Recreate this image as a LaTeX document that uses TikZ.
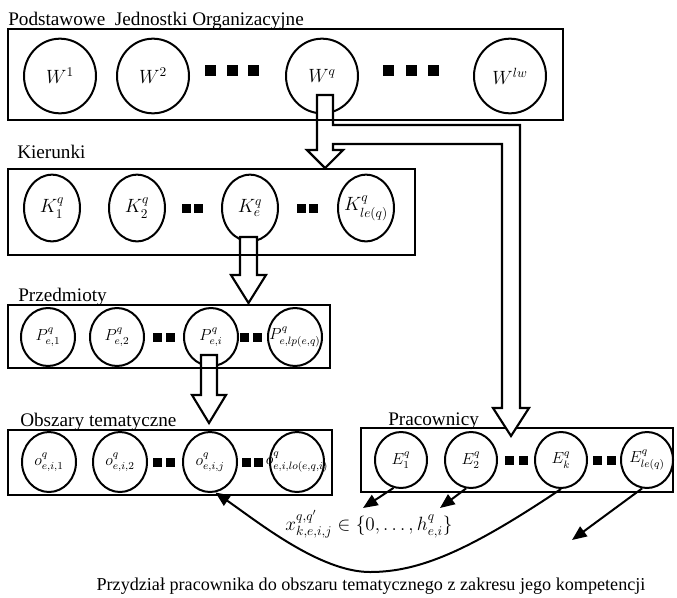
\documentclass[tikz,border=0pt]{standalone}
\usepackage{fontspec}
\setmainfont{Liberation Serif}
\usepackage{amsmath}
\usetikzlibrary{shapes,arrows.meta,positioning,calc}
\newcommand{\etyk}[1]{\makebox[0pt]{$#1$}}

\begin{document}
\begin{tikzpicture}[x=0.75pt,y=-0.75pt,
  lbl/.style={inner sep=0pt, anchor=base west, font=\fontsize{14.4}{16}\selectfont},
  wz/.style={ellipse, draw, fill=white, line width=1.5pt, inner sep=0pt, font=\fontsize{14.4}{16}\selectfont},
  wW/.style={wz, minimum width=54pt, minimum height=56pt},
  wK/.style={wz, minimum width=42pt, minimum height=50pt},
  wP/.style={wz, minimum width=40.5pt, minimum height=43.5pt, font=\fontsize{12}{14}\selectfont},
  wO/.style={wz, minimum width=40.5pt, minimum height=45pt, font=\fontsize{12}{14}\selectfont},
  wE/.style={wz, minimum width=39pt, minimum height=42pt, font=\fontsize{12}{14}\selectfont},
  ramka/.style={draw, line width=1.6pt},
  blok/.style={draw, fill=white, line width=1.6pt},
  strz/.style={-{Triangle[length=11pt,width=9pt]}, line width=1.5pt}]
\useasboundingbox (0,0) rectangle (677,597);

% jednostki
\node[wW] (W1) at (60,76) {\etyk{W^1}};
\node[wW] (W2) at (153,76) {\etyk{W^2}};
\node[wW] (Wq) at (322,76) {\etyk{W^q}};
\node[wW] (Wlw) at (510,76) {\etyk{W^{lw}}};
% kierunki
\node[wK] (K1) at (52,208) {\etyk{K^q_1}};
\node[wK] (K2) at (137,208) {\etyk{K^q_2}};
\node[wK] (Ke) at (250,208) {\etyk{K^q_e}};
\node[wK] (Kle) at (366,208) {\etyk{K^q_{le(q)}}};
% przedmioty
\node[wP] (P1) at (48,337) {\etyk{P^q_{e,1}}};
\node[wP] (P2) at (117,337) {\etyk{P^q_{e,2}}};
\node[wP] (Pei) at (211,337) {\etyk{P^q_{e,i}}};
\node[wP] (Plp) at (295,337) {\etyk{P^q_{e,lp(e,q)}}};
% obszary
\node[wO] (O1) at (49,462) {\etyk{o^q_{e,i,1}}};
\node[wO] (O2) at (120,462) {\etyk{o^q_{e,i,2}}};
\node[wO] (Oej) at (210,462) {\etyk{o^q_{e,i,j}}};
\node[wO] (Olo) at (297,462) {\etyk{o^q_{e,i,lo(e,q,i)}}};
% pracownicy
\node[wE] (E1) at (401,460) {\etyk{E^q_1}};
\node[wE] (E2) at (471,460) {\etyk{E^q_2}};
\node[wE] (Ek) at (561,460) {\etyk{E^q_k}};
\node[wE] (Ele) at (647,460) {\etyk{E^q_{le(q)}}};

% kwadraty
\foreach \x in {205,227,248,383,406,428}
  \fill (\x,65) rectangle +(11,11);
\foreach \x/\y in {182/204,194/204,297/204,309/204,153/333,166/333,240/333,253/333,
  153/458,166/458,242/458,254/458,505/456,519/456,593/456,607/456}
  \fill (\x,\y) rectangle +(9,9);

\draw[ramka] (361,428) rectangle (673,492);

% strzalki blokowe
\draw[blok] (317,95) -- (333,95) -- (333,125) -- (520,125) -- (520,408) -- (529,408)
  -- (511,436) -- (493,408) -- (502,408) -- (502,144) -- (333,144) -- (333,150)
  -- (343,150) -- (325,168) -- (307,150) -- (317,150) -- cycle;
\draw[blok] (240,237) -- (257,237) -- (257,275) -- (266,275) -- (248.5,303)
  -- (231,275) -- (240,275) -- cycle;
\draw[blok] (201,355) -- (217,355) -- (217,395) -- (226,395) -- (209,423)
  -- (192,395) -- (201,395) -- cycle;

% ramki
\draw[ramka] (8,29) rectangle (563,120);
\draw[ramka] (8,169) rectangle (415,255);
\draw[ramka] (8,305) rectangle (330,368);
\draw[ramka] (8,430) rectangle (332,495);

\node[lbl] (tW) at (8,25) {Podstawowe\ \ Jednostki Organizacyjne};
\node[lbl] (tK) at (17,158) {Kierunki};
\node[lbl] (tP) at (18,301) {Przedmioty};
\node[lbl] (tO) at (20,426) {Obszary tematyczne};
\node[lbl] (tE) at (388,425) {Pracownicy};

% przydzial
\coordinate (e1k) at (363,508);
\coordinate (e2k) at (440,508);
\coordinate (elk) at (572,540);
\draw[strz] (E1.255) -- (e1k);
\draw[strz] (E2.260) -- (e2k);
\draw[strz] (Ele.260) -- (elk);
\draw[strz] (Ek.south) .. controls (470,550) and (420,572) .. (370,572)
  .. controls (320,572) and (258,522) .. (Oej.280);

\node[anchor=base, inner sep=0pt, font=\fontsize{14.4}{16}\selectfont] (wzor) at (369,530)
  {$x^{q,q'}_{k,e,i,j} \in \{0,\dots,h^q_{e,i}\}$};
\node[anchor=base, inner sep=0pt, font=\fontsize{13.6}{16}\selectfont] (opis) at (371,590)
  {Przydział pracownika do obszaru tematycznego z zakresu jego kompetencji};
\end{tikzpicture}
\end{document}
